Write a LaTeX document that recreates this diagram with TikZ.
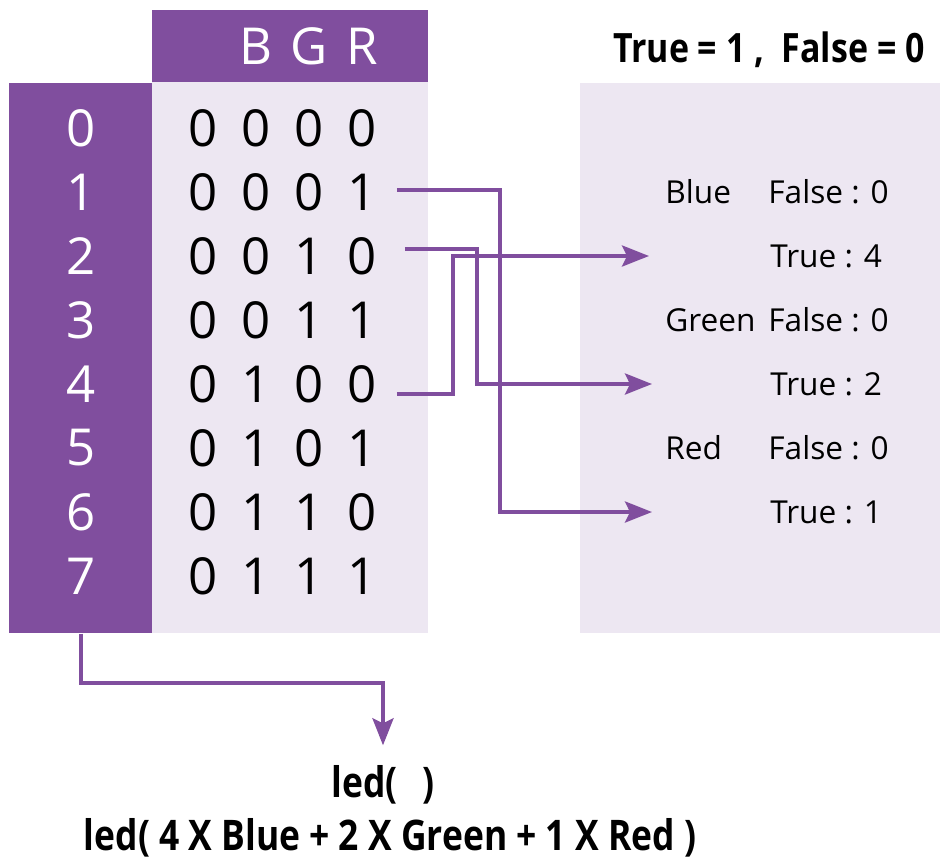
\documentclass[tikz,border=0pt]{standalone}
\usepackage{fontspec}
\setmainfont{Open Sans}
\newfontfamily\condfont{Open Sans}[FakeStretch=0.84]
\usepackage{tikz}
\usetikzlibrary{positioning,arrows.meta}

\definecolor{grape}{RGB}{128,78,158}
\definecolor{lilac}{RGB}{237,231,242}

\newcommand{\bitrow}[4]{\makebox[1.06cm]{#1}\makebox[1.06cm]{#2}\makebox[1.06cm]{#3}\makebox[1.06cm]{#4}}

\begin{document}
\begin{tikzpicture}[x=0.02cm, y=-0.02cm,
  box/.style={inner sep=0, anchor=north west},
  num/.style={text=white, inner sep=0, font=\fontsize{29}{34}\selectfont},
  bits/.style={inner xsep=0.16cm, inner ysep=0, font=\fontsize{29}{34}\selectfont},
  lbl/.style={anchor=west, inner sep=0, font=\fontsize{18}{22}\selectfont},
  bold/.style={inner sep=0, font=\condfont\bfseries\fontsize{24}{29}\selectfont},
  link/.style={draw=grape, line width=0.08cm, -{Stealth[length=0.54cm, width=0.42cm, inset=0.1cm]}}]
  \useasboundingbox (0,0) rectangle (942,862);

  % backgrounds
  \node (numcol) [box, fill=grape, minimum width=2.86cm, minimum height=11cm] at (9,83) {};
  \node (head) [box, fill=grape, minimum width=5.52cm, minimum height=1.44cm] at (152,10) {};
  \node (table) [box, fill=lilac, minimum width=5.52cm, minimum height=11.02cm] at (152,82) {};
  \node (panel) [box, fill=lilac, minimum width=7.2cm, minimum height=11cm] at (580,83) {};

  % table
  \node (bgr) [bits, text=white] at (282.5,46) {\bitrow{}{B}{G}{R}};
  \node (n0) [num] at (81,128) {0};
  \node (r0) [bits] at (282.5,128) {\bitrow{0}{0}{0}{0}};
  \node (n1) [num] at (81,192) {1};
  \node (r1) [bits] at (282.5,192) {\bitrow{0}{0}{0}{1}};
  \node (n2) [num] at (81,256) {2};
  \node (r2) [bits] at (282.5,256) {\bitrow{0}{0}{1}{0}};
  \node (n3) [num] at (81,320) {3};
  \node (r3) [bits] at (282.5,320) {\bitrow{0}{0}{1}{1}};
  \node (n4) [num] at (81,384) {4};
  \node (r4) [bits] at (282.5,384) {\bitrow{0}{1}{0}{0}};
  \node (n5) [num] at (81,448) {5};
  \node (r5) [bits] at (282.5,448) {\bitrow{0}{1}{0}{1}};
  \node (n6) [num] at (81,512) {6};
  \node (r6) [bits] at (282.5,512) {\bitrow{0}{1}{1}{0}};
  \node (n7) [num] at (81,576) {7};
  \node (r7) [bits] at (282.5,576) {\bitrow{0}{1}{1}{1}};

  % right panel
  \node (legend) [bold, anchor=east, font=\condfont\bfseries\fontsize{23}{27}\selectfont] at (925,50) {True = 1 ,\ \ False = 0};
  \node (blue) [lbl] at (665,192) {Blue};
  \node (f4) [lbl] at (768,192) {False : 0};
  \node (t4) [lbl] at (770,256) {True : 4};
  \node (green) [lbl] at (665,320) {Green};
  \node (f2) [lbl] at (768,320) {False : 0};
  \node (t2) [lbl] at (770,384) {True : 2};
  \node (red) [lbl] at (665,448) {Red};
  \node (f1) [lbl] at (768,448) {False : 0};
  \node (t1) [lbl] at (770,512) {True : 1};

  % call
  \node (call) [bold] at (383,785) {led(\hspace{0.5cm})};
  \node (formula) [bold] at (390,838) {led( 4 X Blue + 2 X Green + 1 X Red )};

  \coordinate (in4) at (649,0 |- t4.west);
  \coordinate (in2) at (652,0 |- t2.west);
  \coordinate (in1) at (652,0 |- t1.west);

  \draw[link] ([yshift=0.04cm]r1.east) -| (500,0 |- in1) -- (in1);
  \draw[link] ([xshift=0.16cm, yshift=0.14cm]r2.east) -| (477,0 |- in2) -- (in2);
  \draw[link] ([yshift=-0.2cm]r4.east) -| (453,0 |- in4) -- (in4);
  \draw[link] (numcol.south) -- ++(0,49) -| ([yshift=0.4cm]call.north);
\end{tikzpicture}
\end{document}
